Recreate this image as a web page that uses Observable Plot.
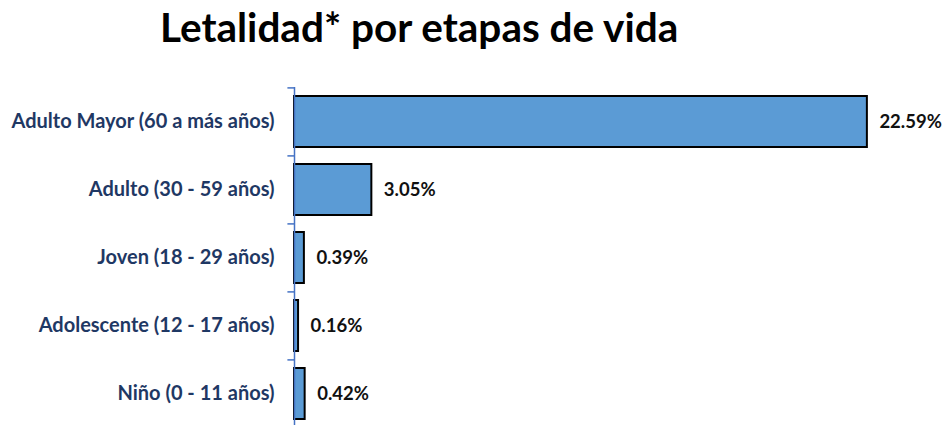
<!DOCTYPE html>
<html>
<head>
<meta charset="utf-8">
<script src="https://cdn.jsdelivr.net/npm/d3@7"></script>
<script src="https://cdn.jsdelivr.net/npm/@observablehq/plot@0.6"></script>
<style>
  html, body { margin: 0; padding: 0; background: #fff; overflow: hidden; }
  #title { height: 60px; box-sizing: border-box; padding-left: 160px; padding-top: 4px;
           font-family: Lato, "Open Sans", sans-serif; font-weight: 700; font-size: 40.5px; color: #000; line-height: 46px; }
  #chart svg { display: block; }
</style>
</head>
<body>
<div id="title">Letalidad* por etapas de vida</div>
<div id="chart"></div>
<script>
const categories = [
  "Adulto Mayor (60 a más años)",
  "Adulto (30 - 59 años)",
  "Joven (18 - 29 años)",
  "Adolescente (12 - 17 años)",
  "Niño (0 - 11 años)"
];
const values = [22.59, 3.05, 0.39, 0.16, 0.42];
const valueLabels = ["22.59%", "3.05%", "0.39%", "0.16%", "0.42%"];

const data = categories.map((c, i) => ({category: c, value: values[i], label: valueLabels[i]}));

const height = 370, marginTop = 27, marginBottom = 2;
const n = categories.length;
const pInner = 0.25, pOuter = 0.125;
const step = (height - marginTop - marginBottom) / (n - pInner + 2 * pOuter);
const tickShift = -(step * (1 - pInner) / 2 + step * pInner / 2);

const plot = Plot.plot({
  width: 951,
  height,
  marginTop,
  marginBottom,
  marginLeft: 294,
  marginRight: 23,
  style: {fontFamily: "Lato, 'Open Sans', sans-serif"},
  x: {domain: [0, 25], axis: null},
  y: {domain: categories, paddingInner: pInner, paddingOuter: pOuter, axis: null},
  marks: [
    Plot.barX(data, {y: "category", x: "value", fill: "#5B9BD5", stroke: "#000", strokeWidth: 2}),
    Plot.ruleX([0], {stroke: "#4472C4", strokeWidth: 1.5}),
    Plot.ruleY(categories, {y: d => d, x1: -0.26, x2: 0, dy: tickShift, stroke: "#4472C4", strokeWidth: 1.5}),
    Plot.axisY({tickSize: 0, tickPadding: 20, fontSize: 20, fontWeight: "bold", color: "#1F3864", label: null}),
    Plot.text(data, {y: "category", x: "value", text: "label", dx: 12, textAnchor: "start",
      fontSize: 18.5, fontWeight: "bold", fill: "#111"})
  ]
});
document.getElementById("chart").appendChild(plot);
</script>
</body>
</html>
